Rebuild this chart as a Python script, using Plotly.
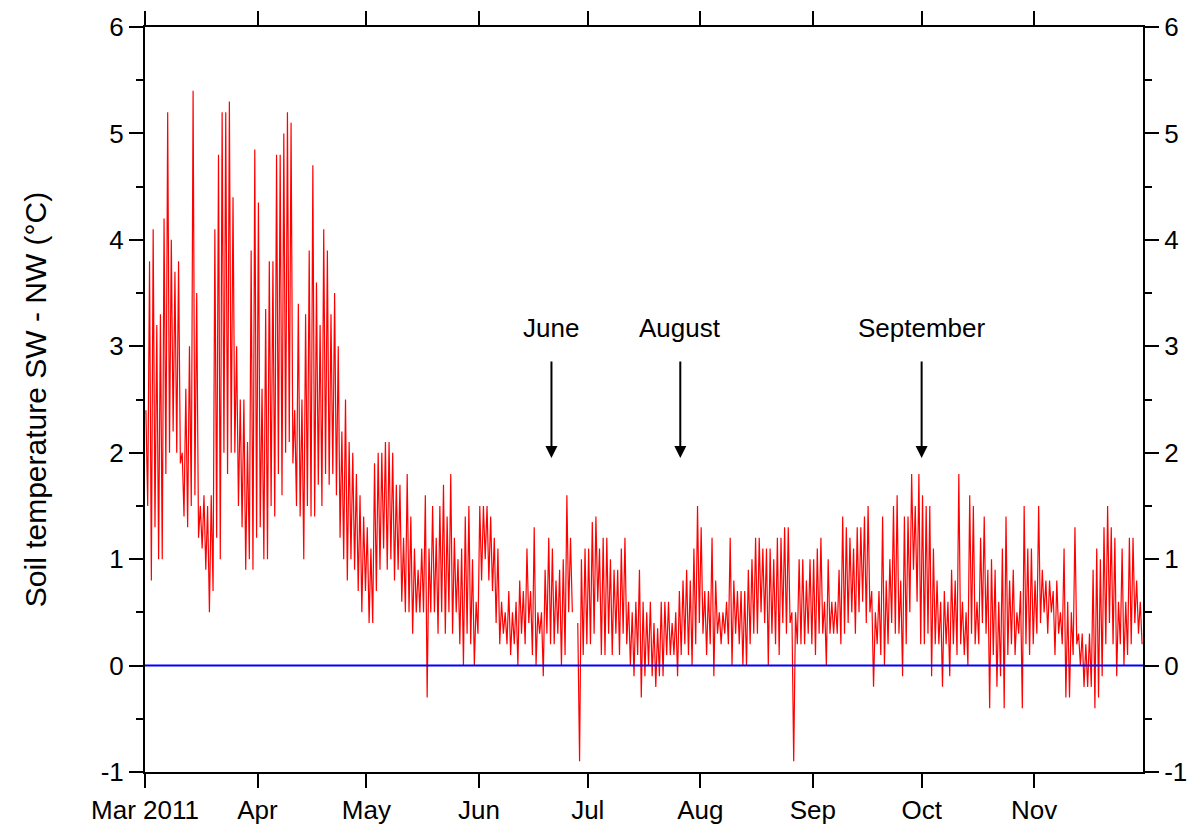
import pandas as pd
import plotly.graph_objects as go

# ---- data: daily maximum / minimum of the SW - NW soil temperature difference (°C), 1 Mar - 30 Nov 2011
start_date = "2011-03-01"
daily_max = [
    2.4, 3.8, 4.1, 3.2, 3.3, 4.2, 5.2, 4.0, 3.7, 3.8,
    2.0, 2.6, 3.0, 5.4, 3.5, 1.5, 1.6, 1.5, 1.6, 4.1,
    4.8, 5.2, 5.2, 5.3, 4.4, 3.0, 2.5, 2.5, 2.1, 3.9,
    4.85, 4.35, 2.6, 3.35, 3.8, 3.8, 4.8, 4.8, 5.0, 5.2,
    5.1, 2.4, 3.4, 2.5, 3.3, 3.9, 4.7, 3.6, 3.2, 4.1,
    3.9, 3.3, 3.5, 3.0, 2.2, 2.5, 2.1, 2.0, 1.8, 1.6,
    1.4, 1.3, 1.1, 1.9, 2.0, 2.0, 2.1, 2.1, 2.0, 1.7,
    1.7, 1.2, 1.8, 1.4, 1.1, 0.9, 1.1, 1.6, 1.1, 1.5,
    1.2, 1.5, 1.7, 1.4, 1.8, 1.2, 1.0, 1.1, 1.4, 1.5,
    1.0, 0.6, 1.5, 1.5, 1.5, 1.4, 1.2, 1.1, 0.6, 0.5,
    0.7, 0.5, 0.6, 0.8, 0.7, 1.1, 0.7, 1.3, 0.5, 0.5,
    0.9, 1.2, 1.1, 0.8, 0.9, 1.0, 1.6, 1.2, None, 0.4,
    1.0, 1.1, 1.1, 1.35, 1.4, 1.1, 1.2, 1.2, 1.0, 0.9,
    0.9, 1.1, 1.2, 0.6, 0.5, 0.6, 0.9, 0.6, 0.5, 0.6,
    0.4, 0.35, 0.6, 0.6, 0.6, 0.4, 0.5, 0.7, 0.8, 0.9,
    0.8, 1.1, 1.5, 1.3, 0.7, 0.7, 1.2, 0.8, 0.5, 0.5,
    0.6, 1.2, 0.8, 0.7, 0.7, 0.7, 0.9, 1.0, 1.2, 1.2,
    1.1, 1.1, 1.1, 1.0, 1.2, 1.2, 1.3, 1.3, 0.5, 0.5,
    1.0, 1.0, 0.8, 1.0, 1.0, 1.1, 1.2, 0.6, 1.0, 0.6,
    0.6, 0.9, 1.4, 1.3, 1.2, 1.1, 1.3, 1.3, 1.4, 1.5,
    0.7, 0.5, 0.7, 1.4, 0.8, 1.0, 1.5, 1.6, 0.8, 1.4,
    1.4, 1.8, 1.5, 1.8, 1.6, 1.5, 1.5, 1.1, 0.8, 0.6,
    0.7, 0.6, 0.9, 0.8, 1.8, 0.6, 0.5, 1.6, 1.5, 0.6,
    1.2, 1.4, 0.9, 1.0, 0.9, 0.6, 1.1, 1.4, 0.8, 0.9,
    0.5, 0.7, 1.5, 1.1, 1.1, 0.8, 1.5, 0.9, 0.8, 0.8,
    0.7, 0.8, 0.5, 1.1, 0.6, 0.5, 1.3, 0.3, 0.3, 0.2,
    0.3, 0.9, 1.1, 1.0, 1.3, 1.5, 1.3, 1.2, 0.6, 1.1,
    0.6, 1.2, 1.2, 0.8, 0.6,
]
daily_min = [
    1.5, 0.8, 1.3, 1.0, 1.0, 1.8, 2.0, 2.2, 2.0, 1.9,
    1.4, 1.3, 1.5, 1.6, 1.2, 1.1, 0.9, 0.5, 0.7, 1.2,
    1.0, 2.0, 1.8, 2.0, 2.0, 1.5, 1.3, 0.9, 1.0, 0.9,
    1.2, 1.3, 1.0, 1.0, 1.5, 1.4, 1.8, 1.6, 2.0, 2.1,
    1.9, 1.5, 1.4, 1.0, 1.5, 1.4, 1.4, 1.7, 1.5, 1.8,
    1.7, 1.8, 1.6, 1.2, 1.0, 0.8, 1.0, 0.9, 0.7, 0.5,
    0.7, 0.4, 0.4, 0.7, 0.9, 1.1, 0.9, 1.0, 0.8, 0.9,
    0.6, 0.5, 0.5, 0.3, 0.5, 0.5, 0.5, -0.3, 0.5, 0.5,
    0.3, 0.5, 0.3, 0.5, 0.3, 0.5, 0.2, 0.0, 0.3, 0.2,
    0.0, 0.3, 0.8, 1.0, 0.8, 0.7, 0.4, 0.2, 0.3, 0.2,
    0.1, 0.2, 0.0, 0.3, 0.2, 0.4, 0.1, 0.0, 0.3, -0.1,
    0.3, 0.2, 0.2, 0.3, 0.0, 0.1, 0.5, 0.5, None, -0.9,
    0.1, 0.2, 0.2, 0.3, 0.6, 0.1, 0.1, 0.3, 0.1, 0.3,
    0.1, 0.3, 0.2, 0.0, -0.1, 0.1, -0.3, -0.1, 0.0, -0.1,
    -0.2, -0.1, -0.1, 0.1, 0.1, 0.1, -0.1, 0.1, 0.2, 0.1,
    0.0, 0.2, 0.4, 0.3, 0.1, 0.2, -0.1, 0.3, 0.2, 0.3,
    0.2, 0.0, 0.3, 0.2, 0.0, 0.0, 0.2, 0.3, 0.3, 0.5,
    0.4, 0.0, 0.3, 0.2, 0.1, 0.4, 0.3, 0.4, -0.9, 0.2,
    0.2, 0.2, 0.3, 0.2, 0.1, 0.3, 0.3, 0.0, 0.3, 0.3,
    0.3, 0.2, 0.3, 0.4, 0.5, 0.3, 0.5, 0.6, 0.4, 0.5,
    -0.2, 0.2, 0.1, 0.0, 0.2, 0.4, 0.3, 0.3, -0.1, 0.2,
    0.5, 0.9, 0.6, 0.2, 0.2, 0.3, -0.1, 0.2, 0.2, -0.2,
    0.2, -0.1, 0.2, 0.1, 0.2, 0.1, 0.0, 0.3, 0.2, 0.2,
    0.4, 0.3, -0.4, 0.1, -0.2, -0.1, -0.4, 0.1, 0.2, 0.1,
    0.3, -0.4, 0.2, 0.1, 0.2, 0.3, 0.4, 0.5, 0.3, 0.5,
    0.1, 0.3, 0.2, -0.3, -0.3, 0.1, 0.2, 0.0, -0.2, -0.2,
    -0.2, -0.4, -0.3, -0.1, 0.2, 0.4, 0.2, -0.1, 0.2, 0.0,
    0.1, 0.2, 0.4, 0.3, 0.2,
]

month_ticks = ["2011-03-01", "2011-04-01", "2011-05-01", "2011-06-01", "2011-07-01",
               "2011-08-01", "2011-09-01", "2011-10-01", "2011-11-01"]
month_labels = ["Mar 2011", "Apr", "May", "Jun", "Jul", "Aug", "Sep", "Oct", "Nov"]
y_ticks = [-1, 0, 1, 2, 3, 4, 5, 6]
y_labels = ["-1", "0", "1", "2", "3", "4", "5", "6"]

event_labels = ["June", "August", "September"]
event_dates = ["2011-06-21 00:00", "2011-07-26 12:00", "2011-10-01 00:00"]
arrow_from = 2.87
arrow_to = 1.95
label_level = 3.17

# ---- build the alternating max/min series
days = pd.date_range(start_date, periods=len(daily_max), freq="D")
t, v = [], []
for d, hi, lo in zip(days, daily_max, daily_min):
    t.append(d + pd.Timedelta(hours=6)); v.append(hi)
    t.append(d + pd.Timedelta(hours=18)); v.append(lo)

font_family = "Liberation Sans, Arial, sans-serif"

fig = go.Figure()
fig.add_trace(go.Scatter(x=t, y=v, mode="lines", line=dict(color="#ff0000", width=1.2),
                         connectgaps=False, hoverinfo="skip"))
fig.add_trace(go.Scatter(x=["2011-03-01", "2011-12-01"], y=[0, 0], mode="lines",
                         line=dict(color="#0000ff", width=2), yaxis="y2", hoverinfo="skip"))

for lab, dt in zip(event_labels, event_dates):
    fig.add_annotation(x=dt, y=arrow_to, ax=dt, ay=arrow_from, xref="x", yref="y",
                       axref="x", ayref="y", text="", showarrow=True,
                       arrowhead=2, arrowsize=1.2, arrowwidth=2, arrowcolor="black")
    fig.add_annotation(x=dt, y=label_level, xref="x", yref="y", text=lab, showarrow=False,
                       font=dict(size=26, color="black", family=font_family))

axis_common = dict(showline=True, linecolor="black", linewidth=2, ticks="outside",
                   ticklen=14, tickwidth=2, tickcolor="black", showgrid=False, zeroline=False,
                   automargin=False,
                   tickfont=dict(size=26, color="black", family=font_family))

fig.update_layout(
    width=1198, height=824,
    margin=dict(l=145, r=55, t=27, b=52),
    plot_bgcolor="white", paper_bgcolor="white",
    showlegend=False,
    font=dict(family=font_family, color="black"),
    xaxis=dict(type="date", range=["2011-03-01", "2011-12-01"], tickmode="array",
               tickvals=month_ticks, ticktext=month_labels, mirror="ticks", **axis_common),
    yaxis=dict(range=[-1, 6], tickmode="array", tickvals=y_ticks, ticktext=y_labels,
               minor=dict(dtick=0.5, ticks="outside", ticklen=7, tickwidth=2, tickcolor="black"),
               title=dict(text="Soil temperature SW - NW (°C)",
                          font=dict(size=30, color="black", family=font_family), standoff=45),
               **axis_common),
    yaxis2=dict(range=[-1, 6], overlaying="y", side="right", anchor="x", tickmode="array",
                tickvals=y_ticks, ticktext=y_labels,
                minor=dict(dtick=0.5, ticks="outside", ticklen=7, tickwidth=2, tickcolor="black"),
                **axis_common),
)

fig.write_html("out.html", config={"displayModeBar": False},
               post_script="document.body.style.margin='0';")
